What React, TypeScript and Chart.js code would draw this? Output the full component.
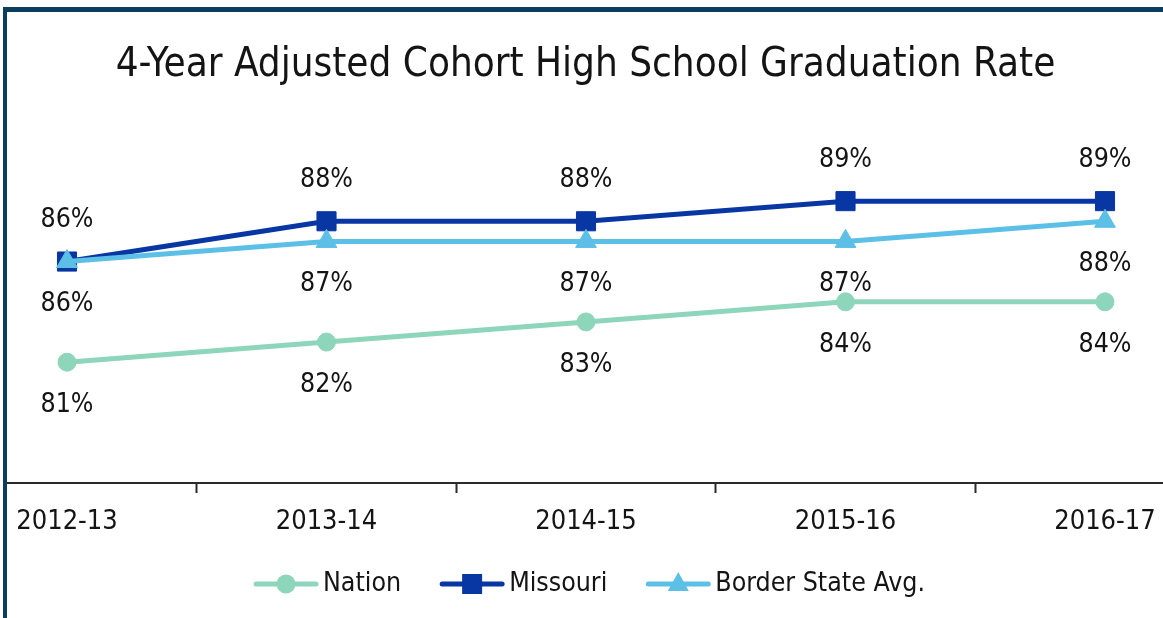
import React, { useEffect, useRef } from 'react';
import { Chart, registerables } from 'chart.js';

Chart.register(...registerables);

const categories = ['2012-13', '2013-14', '2014-15', '2015-16', '2016-17'];
const nationValues = [81, 82, 83, 84, 84];
const missouriValues = [86, 88, 88, 89, 89];
const borderStateValues = [86, 87, 87, 87, 88];
const seriesNames = ['Nation', 'Missouri', 'Border State Avg.'];
const titleText = '4-Year Adjusted Cohort High School Graduation Rate';

const FONT = "'Liberation Sans Narrow', 'Arial Narrow', 'DejaVu Sans Condensed', Roboto, sans-serif";
const TEXT_COLOR = '#141414';
const AXIS_COLOR = '#2a2a2a';
const NATION_COLOR = '#8dd5bb';
const MISSOURI_COLOR = '#0836a3';
const BORDER_COLOR = '#5bbfe6';
const FRAME_COLOR = '#0b3d5c';

const toPoints = (vals: number[]) => vals.map((v, i) => ({ x: i, y: v }));

function drawMarker(ctx: CanvasRenderingContext2D, style: string, x: number, y: number, color: string) {
  ctx.fillStyle = color;
  ctx.beginPath();
  if (style === 'circle') {
    ctx.arc(x, y, 9.5, 0, Math.PI * 2);
  } else if (style === 'rect') {
    ctx.rect(x - 10, y - 10, 20, 20);
  } else {
    ctx.moveTo(x, y - 12);
    ctx.lineTo(x + 10.5, y + 7);
    ctx.lineTo(x - 10.5, y + 7);
    ctx.closePath();
  }
  ctx.fill();
}

const pointLabelPlugin = {
  id: 'pointLabels',
  afterDatasetsDraw(chart: any) {
    const ctx = chart.ctx;
    ctx.save();
    ctx.font = `26.5px ${FONT}`;
    ctx.fillStyle = TEXT_COLOR;
    ctx.textAlign = 'center';
    ctx.textBaseline = 'middle';
    chart.data.datasets.forEach((ds: any, di: number) => {
      const meta = chart.getDatasetMeta(di);
      meta.data.forEach((pt: any, i: number) => {
        const v = ds.data[i].y;
        ctx.fillText(`${v}%`, pt.x, pt.y + ds.labelOffset);
      });
    });
    ctx.restore();
  },
};

const lineLegendPlugin = {
  id: 'lineLegend',
  afterDraw(chart: any) {
    const ctx = chart.ctx;
    const fontSize = 26.5;
    const lineLen = 64;
    const gapText = 5;
    const gapItem = 39;
    ctx.save();
    ctx.font = `${fontSize}px ${FONT}`;
    const items = chart.data.datasets
      .map((ds: any) => ds)
      .sort((a: any, b: any) => a.legendIndex - b.legendIndex);
    const widths = items.map((ds: any) => lineLen + gapText + ctx.measureText(ds.label).width);
    const total = widths.reduce((a: number, b: number) => a + b, 0) + gapItem * (items.length - 1);
    let x = chart.width / 2 + 8 - total / 2;
    const y = chart.height - 34;
    items.forEach((ds: any, i: number) => {
      ctx.strokeStyle = ds.borderColor;
      ctx.lineWidth = 5;
      ctx.lineCap = 'round';
      ctx.beginPath();
      ctx.moveTo(x + 2, y);
      ctx.lineTo(x + lineLen - 2, y);
      ctx.stroke();
      drawMarker(ctx, ds.pointStyle, x + lineLen / 2, y, ds.borderColor);
      ctx.fillStyle = TEXT_COLOR;
      ctx.textAlign = 'left';
      ctx.textBaseline = 'middle';
      ctx.fillText(ds.label, x + lineLen + gapText, y);
      x += widths[i] + gapItem;
    });
    ctx.restore();
  },
};

export default function App() {
  const canvasRef = useRef<HTMLCanvasElement | null>(null);

  useEffect(() => {
    if (!canvasRef.current) return;
    const chart = new Chart(canvasRef.current, {
      type: 'line',
      data: {
        datasets: [
          {
            label: seriesNames[2],
            data: toPoints(borderStateValues),
            borderColor: BORDER_COLOR,
            backgroundColor: BORDER_COLOR,
            pointBackgroundColor: BORDER_COLOR,
            pointBorderColor: BORDER_COLOR,
            borderWidth: 5,
            pointStyle: 'triangle',
            pointRadius: 12,
            pointBorderWidth: 1,
            tension: 0,
            order: 0,
            labelOffset: 43,
            legendIndex: 2,
          } as any,
          {
            label: seriesNames[1],
            data: toPoints(missouriValues),
            borderColor: MISSOURI_COLOR,
            backgroundColor: MISSOURI_COLOR,
            pointBackgroundColor: MISSOURI_COLOR,
            pointBorderColor: MISSOURI_COLOR,
            borderWidth: 5,
            pointStyle: 'rect',
            pointRadius: 13.5,
            pointBorderWidth: 1,
            tension: 0,
            order: 1,
            labelOffset: -41,
            legendIndex: 1,
          } as any,
          {
            label: seriesNames[0],
            data: toPoints(nationValues),
            borderColor: NATION_COLOR,
            backgroundColor: NATION_COLOR,
            pointBackgroundColor: NATION_COLOR,
            pointBorderColor: NATION_COLOR,
            borderWidth: 5,
            pointStyle: 'circle',
            pointRadius: 9,
            pointBorderWidth: 1,
            tension: 0,
            order: 2,
            labelOffset: 43,
            legendIndex: 0,
          } as any,
        ],
      },
      options: {
        animation: false,
        responsive: false,
        maintainAspectRatio: false,
        layout: { autoPadding: false, padding: { left: 8, right: 0, top: 0, bottom: 67 } },
        plugins: {
          legend: { display: false },
          tooltip: { enabled: false },
          title: {
            display: true,
            text: titleText,
            color: TEXT_COLOR,
            font: { family: FONT, size: 40, weight: 'normal' },
            padding: { top: 42, bottom: 91 },
          },
        },
        scales: {
          x: {
            type: 'linear',
            min: -0.2274,
            max: 4.2235,
            afterBuildTicks: (scale: any) => {
              scale.ticks = categories.map((_, i) => ({ value: i }));
            },
            ticks: {
              callback: (value: any) => categories[value as number] ?? '',
              color: TEXT_COLOR,
              font: { family: FONT, size: 27, lineHeight: 58 / 27 },
              padding: 0,
              maxRotation: 0,
              autoSkip: false,
            },
            grid: {
              offset: true,
              drawOnChartArea: false,
              drawTicks: true,
              tickLength: 10,
              tickWidth: 2,
              tickColor: AXIS_COLOR,
            },
            border: { display: true, color: AXIS_COLOR, width: 2 },
          },
          y: {
            display: false,
            min: 75,
            max: 90,
          },
        },
        clip: false as any,
      } as any,
      plugins: [pointLabelPlugin, lineLegendPlugin],
    });
    return () => chart.destroy();
  }, []);

  return (
    <div style={{ position: 'fixed', left: 0, top: 0, width: 1163, height: 618, overflow: 'hidden', background: '#fff' }}>
      <div
        style={{
          position: 'absolute',
          left: 3,
          top: 7,
          width: 1300,
          height: 800,
          borderTop: `5px solid ${FRAME_COLOR}`,
          borderLeft: `4px solid ${FRAME_COLOR}`,
        }}
      />
      <canvas ref={canvasRef} width={1163} height={618} style={{ position: 'absolute', left: 0, top: 0 }} />
    </div>
  );
}
